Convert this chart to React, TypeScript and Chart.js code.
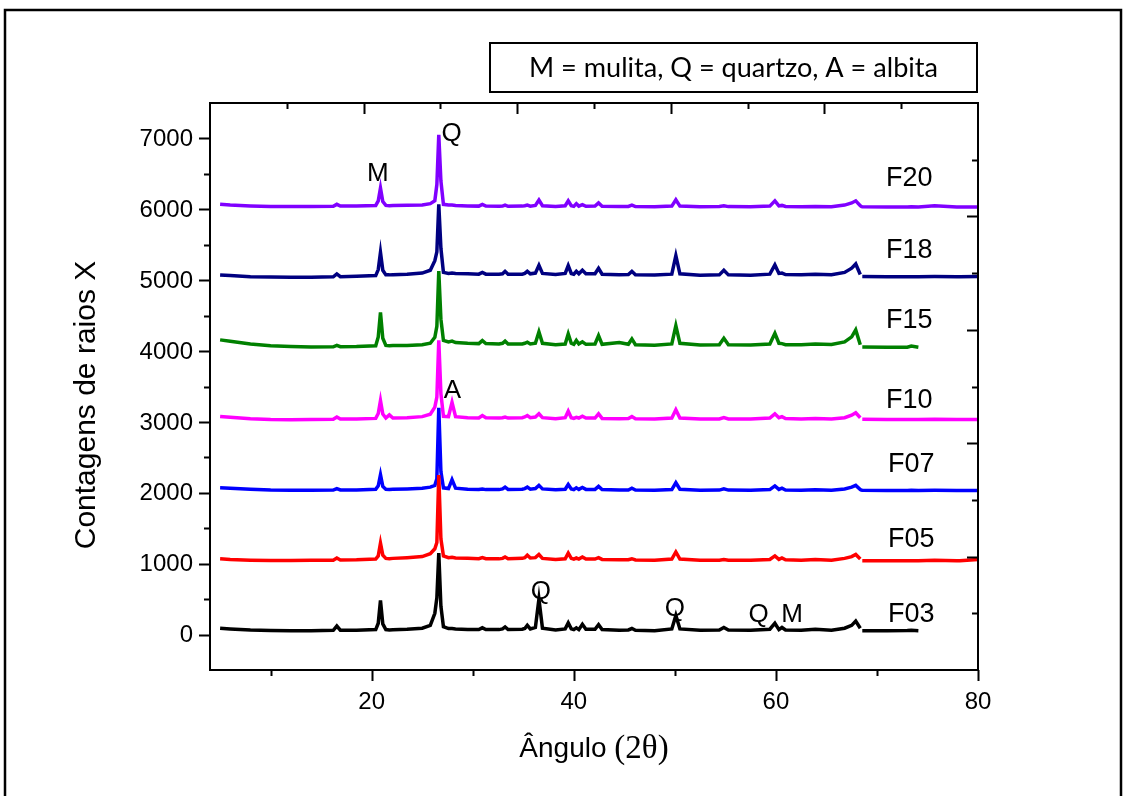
import React, { useEffect, useRef } from "react";
import { Chart, registerables } from "chart.js";

Chart.register(...registerables);

// 2θ sample positions (degrees)
const angles = [
  5, 6, 8, 10, 12, 14, 16.2, 16.55, 16.9, 18.5,
  20.4, 20.65, 20.87, 21.1, 21.4, 21.75, 22.1, 23.5, 25.0, 25.8,
  26.25, 26.45, 26.64, 26.85, 27.1, 27.6, 27.95, 28.3, 29.5, 30.6,
  30.95, 31.3, 32.6, 32.95, 33.2, 33.5, 34.9, 35.15, 35.4, 35.7,
  36.2, 36.55, 36.9, 38.2, 39.15, 39.45, 39.75, 40.0, 40.25, 40.5,
  40.85, 41.2, 42.1, 42.45, 42.8, 44.5, 45.4, 45.75, 46.1, 48.0,
  49.7, 50.1, 50.5, 52.5, 54.4, 54.85, 55.3, 57.5, 59.4, 59.9,
  60.3, 60.6, 60.95, 62.5, 63.9, 65.5, 66.8, 67.5, 67.9, 68.35,
  68.45, 68.55, 71.0, 73.0, 73.4, 74.1, 75.7, 77.9, 78.2, 80.0,
];

const f03 = [
  90, 80, 65, 58, 55, 55, 60, 120, 62, 60,
  70, 160, 480, 150, 70, 65, 68, 75, 90, 130,
  300, 520, 1150, 400, 110, 85, 85, 80, 70, 70,
  95, 70, 70, 80, 107, 70, 75, 85, 130, 80,
  100, 500, 90, 65, 80, 165, 80, 70, 95, 70,
  145, 75, 75, 140, 70, 60, 65, 85, 60, 55,
  80, 270, 80, 60, 65, 100, 65, 60, 75, 160,
  70, 100, 65, 60, 75, 60, 90, 130, 190, 90,
  null, 55, 55, 58, 60, 55, null, null, null, null,
];

const f05 = [
  1070, 1060, 1050, 1045, 1045, 1048, 1050, 1080, 1052, 1055,
  1065, 1110, 1290, 1120, 1075, 1070, 1075, 1085, 1100, 1140,
  1210, 1300, 2250, 1350, 1110, 1085, 1090, 1080, 1075, 1070,
  1085, 1070, 1068, 1075, 1095, 1070, 1075, 1085, 1120, 1080,
  1085, 1130, 1075, 1060, 1070, 1150, 1075, 1065, 1080, 1065,
  1095, 1065, 1065, 1085, 1060, 1055, 1055, 1070, 1052, 1050,
  1065, 1165, 1065, 1050, 1050, 1060, 1050, 1048, 1060, 1110,
  1060, 1080, 1055, 1050, 1060, 1050, 1075, 1100, 1130, 1065,
  null, 1042, 1040, 1040, 1040, 1042, 1048, 1040, 1040, 1060,
];

const f07 = [
  2072, 2065, 2050, 2038, 2035, 2035, 2038, 2060, 2040, 2040,
  2050, 2100, 2255, 2090, 2050, 2048, 2050, 2055, 2065, 2080,
  2105, 2200, 3200, 2300, 2070, 2060, 2185, 2065, 2050, 2048,
  2055, 2045, 2045, 2055, 2080, 2048, 2050, 2060, 2080, 2050,
  2060, 2105, 2055, 2042, 2050, 2118, 2055, 2045, 2070, 2048,
  2075, 2048, 2048, 2090, 2045, 2038, 2040, 2065, 2040, 2036,
  2045, 2142, 2050, 2036, 2038, 2055, 2038, 2035, 2045, 2097,
  2048, 2065, 2040, 2036, 2042, 2036, 2055, 2080, 2105, 2045,
  2038, 2035, 2033, 2033, 2035, 2033, 2035, 2032, 2032, 2033,
];

const f10 = [
  3077, 3065, 3045, 3035, 3032, 3033, 3038, 3070, 3040, 3040,
  3050, 3120, 3302, 3110, 3055, 3100, 3055, 3060, 3075, 3110,
  3208, 3350, 4150, 3400, 3080, 3075, 3278, 3075, 3060, 3055,
  3090, 3058, 3055, 3060, 3070, 3055, 3060, 3070, 3090, 3060,
  3070, 3115, 3060, 3045, 3060, 3152, 3060, 3050, 3065, 3055,
  3080, 3055, 3055, 3115, 3050, 3045, 3048, 3075, 3045, 3040,
  3055, 3171, 3055, 3040, 3042, 3060, 3042, 3040, 3055, 3115,
  3060, 3075, 3048, 3042, 3050, 3042, 3060, 3095, 3129, 3060,
  null, 3038, 3035, 3035, 3036, 3035, 3038, 3033, 3033, 3035,
];

const f15 = [
  4158, 4140, 4100, 4075, 4065, 4058, 4060, 4080, 4062, 4065,
  4075, 4200, 4547, 4180, 4080, 4075, 4078, 4080, 4090, 4110,
  4195, 4350, 5130, 4450, 4150, 4130, 4140, 4120, 4110, 4105,
  4148, 4105, 4100, 4110, 4140, 4100, 4100, 4110, 4125, 4100,
  4110, 4270, 4110, 4090, 4100, 4242, 4110, 4095, 4150, 4100,
  4130, 4095, 4100, 4218, 4095, 4120, 4095, 4171, 4090, 4082,
  4100, 4359, 4110, 4085, 4090, 4180, 4090, 4085, 4100, 4250,
  4110, 4105, 4090, 4090, 4100, 4092, 4130, 4200, 4298, 4090,
  null, 4058, 4055, 4055, 4070, 4055, null, null, null, null,
];

const f18 = [
  5074, 5065, 5050, 5045, 5042, 5042, 5048, 5088, 5050, 5055,
  5065, 5150, 5393, 5140, 5075, 5075, 5078, 5085, 5100, 5140,
  5275, 5400, 6070, 5450, 5110, 5095, 5100, 5095, 5090, 5085,
  5110, 5085, 5085, 5090, 5125, 5085, 5085, 5095, 5125, 5090,
  5100, 5210, 5095, 5080, 5095, 5205, 5095, 5085, 5125, 5090,
  5140, 5090, 5090, 5167, 5085, 5078, 5080, 5125, 5078, 5072,
  5085, 5346, 5090, 5070, 5075, 5140, 5075, 5070, 5085, 5215,
  5095, 5100, 5080, 5075, 5085, 5078, 5110, 5170, 5229, 5080,
  null, 5052, 5050, 5050, 5050, 5050, 5052, 5050, 5050, 5052,
];

const f20 = [
  6070, 6060, 6048, 6040, 6038, 6038, 6042, 6070, 6045, 6045,
  6055, 6120, 6300, 6110, 6055, 6052, 6055, 6058, 6062, 6080,
  6120, 6350, 7050, 6400, 6070, 6060, 6062, 6055, 6048, 6045,
  6070, 6045, 6042, 6045, 6060, 6042, 6045, 6050, 6060, 6045,
  6055, 6130, 6050, 6040, 6050, 6120, 6050, 6042, 6080, 6045,
  6065, 6042, 6045, 6090, 6042, 6038, 6040, 6058, 6038, 6035,
  6045, 6135, 6045, 6035, 6040, 6050, 6038, 6035, 6045, 6120,
  6048, 6055, 6040, 6035, 6040, 6035, 6060, 6090, 6120, 6050,
  6040, 6035, 6033, 6033, 6035, 6033, 6050, 6032, 6032, 6033,
];

const seriesNames = ["F03", "F05", "F07", "F10", "F15", "F18", "F20"];
const seriesValues = [f03, f05, f07, f10, f15, f18, f20];
const seriesColors = ["#000000", "#FF0000", "#0000FF", "#FF00FF", "#008000", "#000080", "#8000FF"];

// axis ticks
const xMajorTicks = [20, 40, 60, 80];
const xMinorTicks = [10, 30, 50, 70];
const yMajorTicks = [0, 1000, 2000, 3000, 4000, 5000, 6000, 7000];
const yMinorTicks = [500, 1500, 2500, 3500, 4500, 5500, 6500];

// labels (data coordinates)
const peakLabels = [
  { text: "M", x: 20.6, y: 6500 },
  { text: "Q", x: 27.9, y: 7065 },
  { text: "A", x: 28.0, y: 3440 },
  { text: "Q", x: 36.75, y: 600 },
  { text: "Q", x: 50.0, y: 366 },
  { text: "Q", x: 58.3, y: 272 },
  { text: "M", x: 61.6, y: 272 },
];
const seriesLabelX = [73.4, 73.4, 73.4, 73.2, 73.2, 73.2, 73.2];
const seriesLabelY = [282, 1339, 2396, 3302, 4430, 5417, 6435];

const legendText = "M = mulita, Q = quartzo, A = albita";
const xTitleMain = "Ângulo ";
const xTitleUnit = "(2θ)";
const yTitle = "Contagens de raios X";

const SANS = "'Liberation Sans', Arial, sans-serif";
const SERIF = "'Liberation Serif', 'Times New Roman', serif";

const decorPlugin = {
  id: "decor",
  beforeDraw(chart: any) {
    const ctx = chart.ctx;
    ctx.save();
    ctx.fillStyle = "#ffffff";
    ctx.fillRect(0, 0, chart.width, chart.height);
    ctx.restore();
  },
  afterDraw(chart: any) {
    const ctx = chart.ctx as CanvasRenderingContext2D;
    const { left, right, top, bottom } = chart.chartArea;
    const xs = chart.scales.x;
    const ys = chart.scales.y;
    ctx.save();
    ctx.strokeStyle = "#000";
    ctx.fillStyle = "#000";

    // outer frame
    ctx.lineWidth = 2.5;
    ctx.strokeRect(5, 10, 1116, 820);

    // plot frame
    ctx.lineWidth = 2;
    ctx.strokeRect(left, top, right - left, bottom - top);

    ctx.beginPath();
    for (const v of yMajorTicks) {
      const y = Math.round(ys.getPixelForValue(v)) + 0.5;
      ctx.moveTo(left - 11, y);
      ctx.lineTo(left, y);
    }
    for (const v of yMinorTicks) {
      const y = Math.round(ys.getPixelForValue(v)) + 0.5;
      ctx.moveTo(left - 6, y);
      ctx.lineTo(left, y);
    }
    for (const v of xMajorTicks) {
      const x = Math.round(xs.getPixelForValue(v)) + 0.5;
      ctx.moveTo(x, bottom);
      ctx.lineTo(x, bottom + 11);
    }
    for (const v of xMinorTicks) {
      const x = Math.round(xs.getPixelForValue(v)) + 0.5;
      ctx.moveTo(x, bottom);
      ctx.lineTo(x, bottom + 6);
    }
    for (let k = 1; k < 10; k++) {
      const len = k % 2 === 0 ? 11 : 6;
      const x = Math.round(left + (k / 10) * (right - left)) + 0.5;
      ctx.moveTo(x, top);
      ctx.lineTo(x, top + len);
      const y = Math.round(top + (k / 10) * (bottom - top)) + 0.5;
      ctx.moveTo(right, y);
      ctx.lineTo(right - len, y);
    }
    ctx.stroke();

    // tick labels
    ctx.font = `24px ${SANS}`;
    ctx.textAlign = "right";
    ctx.textBaseline = "middle";
    for (const v of yMajorTicks) {
      ctx.fillText(String(v), left - 17, ys.getPixelForValue(v) + 1);
    }
    ctx.textAlign = "center";
    for (const v of xMajorTicks) {
      ctx.fillText(String(v), xs.getPixelForValue(v), bottom + 32);
    }

    // x title
    ctx.textBaseline = "alphabetic";
    ctx.textAlign = "left";
    ctx.font = `28px ${SANS}`;
    const w1 = ctx.measureText(xTitleMain).width;
    ctx.font = `33px ${SERIF}`;
    const w2 = ctx.measureText(xTitleUnit).width;
    const xStart = (left + right) / 2 - (w1 + w2) / 2;
    ctx.font = `28px ${SANS}`;
    ctx.fillText(xTitleMain, xStart, 757);
    ctx.font = `33px ${SERIF}`;
    ctx.fillText(xTitleUnit, xStart + w1, 758);

    // y title
    ctx.save();
    ctx.translate(87, 405);
    ctx.rotate(-Math.PI / 2);
    ctx.font = `30px ${SANS}`;
    ctx.textAlign = "center";
    ctx.textBaseline = "middle";
    ctx.fillText(yTitle, 0, 0);
    ctx.restore();

    // legend box
    ctx.lineWidth = 2;
    ctx.strokeRect(490, 43, 487, 49);
    ctx.font = `23px Lato, ${SANS}`;
    const lw = ctx.measureText(legendText).width;
    const fs = (23 * 409) / lw;
    ctx.font = `${fs.toFixed(2)}px Lato, ${SANS}`;
    ctx.textAlign = "center";
    ctx.textBaseline = "middle";
    ctx.fillText(legendText, 733.5, 68);

    // peak labels
    ctx.font = `26px ${SANS}`;
    for (const p of peakLabels) {
      ctx.fillText(p.text, xs.getPixelForValue(p.x), ys.getPixelForValue(p.y));
    }
    // series labels
    ctx.font = `27px ${SANS}`;
    seriesNames.forEach((n, i) => {
      ctx.fillText(n, xs.getPixelForValue(seriesLabelX[i]), ys.getPixelForValue(seriesLabelY[i]));
    });

    ctx.restore();
  },
};

export default function App() {
  const ref = useRef<HTMLCanvasElement>(null);
  useEffect(() => {
    const datasets = seriesNames.map((name, i) => ({
      label: name,
      data: angles.map((a, j) => ({ x: a, y: seriesValues[i][j] })),
      borderColor: seriesColors[i],
      backgroundColor: seriesColors[i],
      borderWidth: 3.5,
      pointRadius: 0,
      tension: 0,
      spanGaps: false,
      fill: false,
    }));
    const chart = new Chart(ref.current as HTMLCanvasElement, {
      type: "line",
      data: { datasets },
      options: {
        animation: false,
        responsive: true,
        maintainAspectRatio: false,
        devicePixelRatio: 1,
        layout: { padding: { left: 210, right: 146, top: 103, bottom: 126 } },
        scales: {
          x: { type: "linear", min: 4, max: 80, display: false },
          y: { type: "linear", min: -500, max: 7500, display: false },
        },
        plugins: { legend: { display: false }, tooltip: { enabled: false } },
        events: [],
      },
      plugins: [decorPlugin],
    } as any);
    return () => chart.destroy();
  }, []);
  return (
    <div style={{ position: "absolute", left: 0, top: 0, width: 1124, height: 796, background: "#fff" }}>
      <canvas ref={ref} />
    </div>
  );
}
